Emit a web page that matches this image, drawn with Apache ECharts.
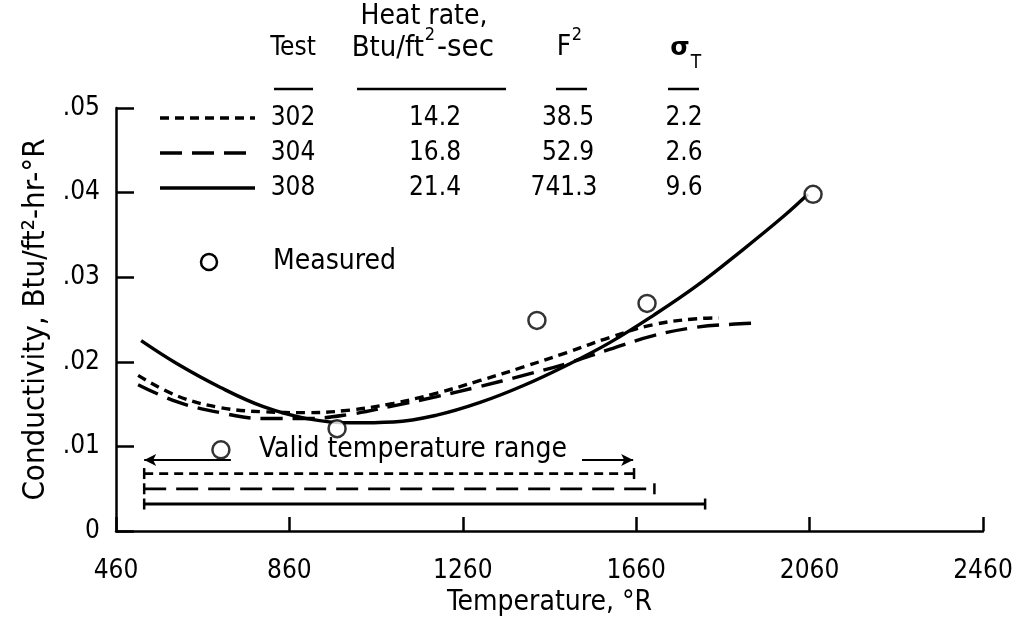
<!DOCTYPE html>
<html>
<head>
<meta charset="utf-8">
<script src="https://cdn.jsdelivr.net/npm/echarts@6/dist/echarts.min.js"></script>
<style>
  html, body { margin: 0; padding: 0; background: #fff; }
  #chart { width: 1017px; height: 622px; }
</style>
</head>
<body>
<div id="chart"></div>
<script>
// ---------------- data ----------------
const xTicks = [460, 860, 1260, 1660, 2060, 2460];
const yTicks = [0, 0.01, 0.02, 0.03, 0.04, 0.05];

const tests = ['302', '304', '308'];
const heatRates = ['14.2', '16.8', '21.4'];
const fSquared = ['38.5', '52.9', '741.3'];
const sigmaT = ['2.2', '2.6', '9.6'];

// fitted conductivity curves [temperature °R, conductivity]
const curve302 = [[511,0.0184],[600,0.0160],[700,0.0146],[800,0.0141],[900,0.0140],[1000,0.0143],[1100,0.0151],[1200,0.0163],[1300,0.0178],[1400,0.0194],[1500,0.0211],[1600,0.0229],[1700,0.0244],[1800,0.0251],[1850,0.0252]];
const curve304 = [[511,0.0173],[600,0.0153],[700,0.0140],[800,0.0133],[900,0.0133],[1000,0.0138],[1100,0.0148],[1200,0.0159],[1300,0.0171],[1400,0.0184],[1500,0.0198],[1600,0.0215],[1700,0.0231],[1800,0.0241],[1900,0.0245],[1940,0.0246]];
const curve308 = [[518,0.0225],[600,0.0198],[700,0.0170],[800,0.0147],[900,0.0133],[1000,0.0128],[1100,0.0129],[1200,0.0137],[1300,0.0152],[1400,0.0172],[1500,0.0196],[1600,0.0223],[1700,0.0255],[1800,0.0290],[1900,0.0330],[2000,0.0372],[2056,0.0398]];

// measured points
const measured = [[702,0.0096],[970,0.0121],[1431,0.0249],[1685,0.0269],[2068,0.0398]];

// valid temperature ranges
const validStart = 525;
const validEnd = [1655, 1702, 1819];
const validLevel = [0.0068, 0.0050, 0.0032];
const validArrowY = 0.0084;
const validArrowLeft = [725, 525];
const validArrowRight = [1535, 1653];
const validLabelY = 0.0096;

// ---------------- styles ----------------
const FONT = "'Liberation Sans Narrow','DejaVu Sans Condensed','Liberation Sans',sans-serif";
const FS = 26;
const dashes = [[9, 6], [22, 10], 'solid'];

const chart = echarts.init(document.getElementById('chart'), null, {renderer: 'canvas'});

const curves = [curve302, curve304, curve308];
const series = [];
curves.forEach((c, i) => {
  series.push({
    type: 'line', data: c, smooth: 0.4, showSymbol: false, silent: true,
    lineStyle: {color: '#000', width: 3.4, type: dashes[i]}, z: 3
  });
});
tests.forEach((t, i) => {
  series.push({
    type: 'line', data: [[validStart, validLevel[i]], [validEnd[i], validLevel[i]]],
    symbol: 'rect', symbolSize: [2.5, 11], showSymbol: true, silent: true,
    itemStyle: {color: '#000'},
    lineStyle: {color: '#000', width: 2.8, type: dashes[i]}, z: 3
  });
});
series.push({
  type: 'line', data: [], silent: true,
  markLine: {
    silent: true, symbol: ['none', 'arrow'], symbolSize: [9, 12],
    label: {show: false},
    lineStyle: {color: '#000', width: 2.2, type: 'solid'},
    data: [
      [{coord: [validArrowLeft[0], validArrowY]}, {coord: [validArrowLeft[1], validArrowY]}],
      [{coord: [validArrowRight[0], validArrowY]}, {coord: [validArrowRight[1], validArrowY]}]
    ]
  }
});
series.push({
  type: 'scatter', data: measured, symbol: 'circle', symbolSize: 17, silent: true,
  itemStyle: {color: '#fff', borderColor: '#000', borderWidth: 2.5}, z: 5
});

const option = {
  animation: false,
  backgroundColor: '#fff',
  grid: {left: 116, right: 34, top: 108, bottom: 86, containLabel: false},
  xAxis: {
    type: 'value', min: xTicks[0], max: xTicks[xTicks.length - 1], interval: 400,
    name: 'Temperature, °R', nameLocation: 'middle', nameGap: 54,
    nameTextStyle: {fontSize: 28, fontFamily: FONT, color: '#000'},
    axisLine: {show: true, lineStyle: {color: '#000', width: 2.5}},
    axisTick: {show: true, inside: true, length: 14, lineStyle: {color: '#000', width: 2.5}},
    axisLabel: {fontSize: FS, fontFamily: FONT, color: '#000', margin: 27, showMinLabel: true, showMaxLabel: true,
      formatter: v => String(v)},
    splitLine: {show: false}
  },
  yAxis: {
    type: 'value', min: yTicks[0], max: yTicks[yTicks.length - 1], interval: 0.01,
    name: 'Conductivity, Btu/ft²-hr-°R', nameLocation: 'middle', nameGap: 47, nameRotate: 90,
    nameTextStyle: {fontSize: 31, fontFamily: FONT, color: '#000'},
    axisLine: {show: true, lineStyle: {color: '#000', width: 2.5}},
    axisTick: {show: true, inside: true, length: 18, lineStyle: {color: '#000', width: 2.5}},
    axisLabel: {fontSize: FS, fontFamily: FONT, color: '#000', margin: 16,
      formatter: v => v === 0 ? '0' : v.toFixed(2).replace(/^0/, '')},
    splitLine: {show: false}
  },
  series: series
};
chart.setOption(option);

// ---------------- legend table (graphic, layout only) ----------------
const txt = (text, x, y, opts) => ({
  type: 'text', silent: true, z: 10,
  style: Object.assign({text: text, x: x, y: y, fill: '#000', fontSize: FS, fontFamily: FONT,
    textAlign: 'center', verticalAlign: 'middle'}, opts || {})
});
const seg = (x1, y1, x2, y2, dash, w) => ({
  type: 'line', silent: true, z: 10,
  shape: {x1: x1, y1: y1, x2: x2, y2: y2},
  style: {stroke: '#000', lineWidth: w || 3, lineDash: dash}
});

const labelPt = chart.convertToPixel({gridIndex: 0}, [validStart, validLabelY]);
const rowY = [118, 153, 188];
const colX = {test: 293, heat: 432, f2: 568, sig: 684};
const graphics = [
  txt('Heat rate,', colX.heat - 8, 17, {fontSize: 28}),
  txt('Test', colX.test, 48),
  txt('Btu/ft', colX.heat - 8, 48, {textAlign: 'right', fontSize: 29}),
  txt('2', colX.heat - 2, 35, {fontSize: 18}),
  txt('-sec', colX.heat + 5, 48, {textAlign: 'left', fontSize: 31}),
  txt('F', colX.f2 - 4, 48, {fontSize: 28}),
  txt('2', colX.f2 + 9, 35, {fontSize: 18}),
  txt('σ', colX.sig - 4, 48, {fontWeight: 'bold', fontFamily: "'DejaVu Sans',sans-serif", fontSize: 25}),
  txt('T', colX.sig + 12, 63, {fontSize: 19}),
  seg(274, 89, 313, 89, null, 2.5),
  seg(357, 89, 506, 89, null, 2.5),
  seg(556, 89, 587, 89, null, 2.5),
  seg(668, 89, 699, 89, null, 2.5),
  txt('Measured', 273, 262, {textAlign: 'left', fontSize: 28}),
  {type: 'circle', silent: true, z: 10, shape: {cx: 209, cy: 262, r: 8},
    style: {fill: '#fff', stroke: '#000', lineWidth: 2.5}},
  txt('Valid temperature range', 259, labelPt[1], {textAlign: 'left', fontSize: 28})
];
tests.forEach((t, i) => {
  const d = dashes[i] === 'solid' ? null : dashes[i];
  graphics.push(seg(160, rowY[i], 255, rowY[i], d, 3.4));
  graphics.push(txt(t, colX.test, rowY[i]));
  graphics.push(txt(heatRates[i], colX.heat + 3, rowY[i]));
  graphics.push(txt(fSquared[i], fSquared[i].length > 4 ? colX.f2 - 4 : colX.f2, rowY[i]));
  graphics.push(txt(sigmaT[i], colX.sig, rowY[i]));
});
chart.setOption({graphic: graphics});
</script>
</body>
</html>
